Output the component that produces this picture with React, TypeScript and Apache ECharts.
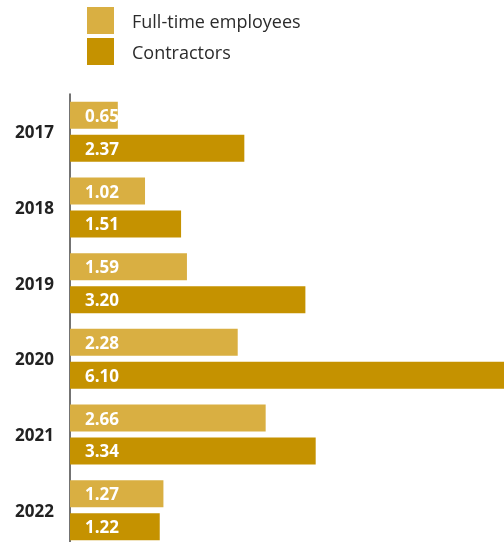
import React, { useEffect, useRef } from "react";
import * as echarts from "echarts";

const years = ["2017", "2018", "2019", "2020", "2021", "2022"];
const fullTime = [0.65, 1.02, 1.59, 2.28, 2.66, 1.27];
const contractors = [2.37, 1.51, 3.2, 6.1, 3.34, 1.22];
const seriesNames = ["Full-time employees", "Contractors"];

export default function App() {
  const ref = useRef<HTMLDivElement>(null);
  useEffect(() => {
    if (!ref.current) return;
    const chart = echarts.init(ref.current, undefined, { renderer: "svg" });
    const label = {
      show: true,
      position: "insideLeft",
      distance: 15,
      color: "#ffffff",
      fontWeight: "bold",
      fontSize: 17,
      fontFamily: "Open Sans",
      formatter: (p: any) => p.value.toFixed(2),
    };
    chart.setOption({
      animation: false,
      legend: {
        orient: "vertical",
        left: 87,
        top: 7,
        padding: 0,
        itemGap: 4,
        itemWidth: 27,
        itemHeight: 27,
        icon: "rect",
        textStyle: {
          fontSize: 18,
          color: "#2b2b2b",
          fontFamily: "Open Sans",
          padding: [0, 0, 0, 13],
        },
        data: seriesNames,
      },
      grid: { left: 70, right: 0, top: 94, bottom: 0 },
      xAxis: { type: "value", min: 0, max: 5.9, show: false },
      yAxis: {
        type: "category",
        data: years,
        inverse: true,
        axisLine: { show: true, lineStyle: { color: "#444444", width: 1.5 } },
        axisTick: { show: false },
        axisLabel: {
          margin: 16,
          color: "#222222",
          fontWeight: "bold",
          fontSize: 17,
          fontFamily: "Open Sans",
        },
      },
      series: [
        {
          name: seriesNames[0],
          type: "bar",
          data: fullTime,
          barWidth: 27,
          barGap: "22%",
          itemStyle: { color: "#D9AF42" },
          label,
        },
        {
          name: seriesNames[1],
          type: "bar",
          data: contractors,
          barWidth: 27,
          barGap: "22%",
          itemStyle: { color: "#C59200" },
          label,
        },
      ],
    });
    return () => chart.dispose();
  }, []);
  return (
    <div
      ref={ref}
      style={{ position: "fixed", left: 0, top: 0, width: 504, height: 548 }}
    />
  );
}
